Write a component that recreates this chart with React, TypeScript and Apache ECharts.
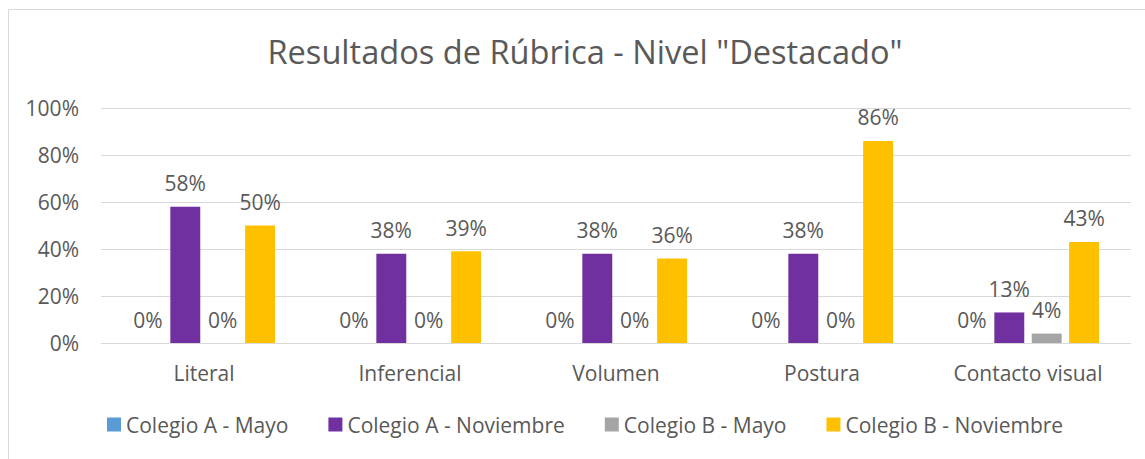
import React, { useEffect, useRef } from "react";
import * as echarts from "echarts";

const categories = ["Literal", "Inferencial", "Volumen", "Postura", "Contacto visual"];
const seriesNames = ["Colegio A - Mayo", "Colegio A - Noviembre", "Colegio B - Mayo", "Colegio B - Noviembre"];
const colegioAMayo = [0, 0, 0, 0, 0];
const colegioANoviembre = [58, 38, 38, 38, 13];
const colegioBMayo = [0, 0, 0, 0, 4];
const colegioBNoviembre = [50, 39, 36, 86, 43];
const colors = ["#5b9bd5", "#7030a0", "#a5a5a5", "#ffc000"];
const yTicks = [0, 20, 40, 60, 80, 100];

const FONT = "Open Sans";
const TEXT = "#595959";
const FS = 21;

export default function App() {
  const ref = useRef<HTMLDivElement>(null);
  useEffect(() => {
    if (!ref.current) return;
    const chart = echarts.init(ref.current, undefined, { renderer: "svg" });
    const data = [colegioAMayo, colegioANoviembre, colegioBMayo, colegioBNoviembre];
    chart.setOption({
      animation: false,
      textStyle: { fontFamily: FONT, color: TEXT },
      title: {
        text: 'Resultados de Rúbrica - Nivel "Destacado"',
        left: 580,
        textAlign: "center",
        top: 30,
        textStyle: { fontFamily: FONT, fontSize: 32.6, fontWeight: "normal", color: TEXT },
      },
      graphic: [
        {
          type: "rect",
          shape: { x: 8.5, y: 9.5, width: 1300, height: 600 },
          style: { fill: "none", stroke: "#d9d9d9", lineWidth: 1 },
          silent: true,
        },
      ],
      legend: {
        bottom: 19,
        left: 102,
        itemWidth: 14,
        itemHeight: 14,
        itemGap: 40,
        itemTextGap: 6,
        icon: "rect",
        data: seriesNames,
        textStyle: { fontFamily: FONT, fontSize: FS, color: TEXT },
      },
      grid: { left: 101, right: 14, top: 108, bottom: 116 },
      xAxis: {
        type: "category",
        data: categories,
        axisLine: { lineStyle: { color: "#d9d9d9" } },
        axisTick: { show: false },
        axisLabel: { fontFamily: FONT, fontSize: FS, color: TEXT, margin: 19 },
      },
      yAxis: {
        type: "value",
        min: yTicks[0],
        max: yTicks[yTicks.length - 1],
        interval: 20,
        axisLine: { show: false },
        axisTick: { show: false },
        splitLine: { lineStyle: { color: "#d9d9d9" } },
        axisLabel: { fontFamily: FONT, fontSize: FS, color: TEXT, margin: 22, formatter: "{value}%" },
      },
      series: seriesNames.map((name, i) => ({
        name,
        type: "bar",
        data: data[i],
        barGap: "25%",
        barCategoryGap: "31%",
        itemStyle: { color: colors[i] },
        label: {
          show: true,
          position: "top",
          distance: 13,
          formatter: "{c}%",
          fontFamily: FONT,
          fontSize: FS,
          color: TEXT,
        },
      })),
    });
    return () => chart.dispose();
  }, []);
  return <div ref={ref} style={{ position: "fixed", left: 0, top: 0, width: 1145, height: 459, background: "#fff" }} />;
}
